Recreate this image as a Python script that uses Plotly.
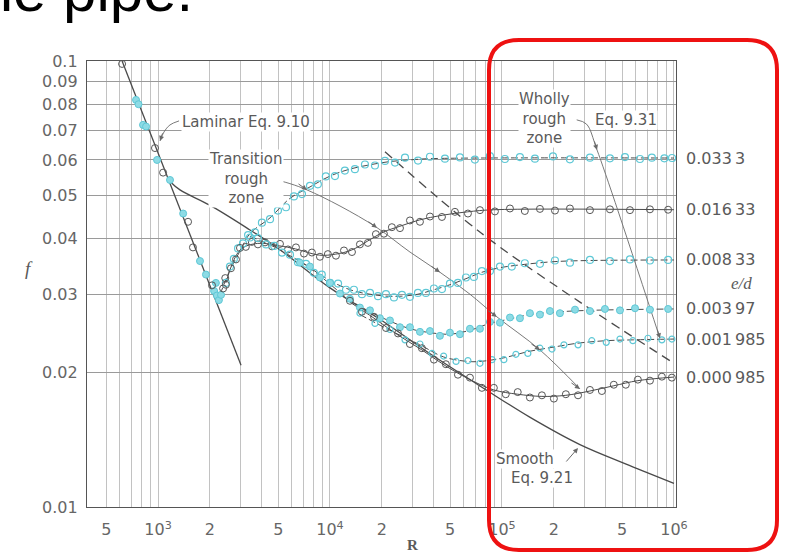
import numpy as np
import plotly.graph_objects as go

# ---------------- data ----------------
# Laminar line (Eq. 9.10)
LAM_R = [618, 3040]
LAM_F = [0.1, 0.0208]

# Smooth pipe line (Eq. 9.21)
SMOOTH_R = [1174, 1342, 2000, 3425, 5000, 10000, 20000, 40000, 81000, 145000, 284000, 550000, 1000000]
SMOOTH_F = [0.0537, 0.0514, 0.0475, 0.0418, 0.0380, 0.0310, 0.0262, 0.0218, 0.0183, 0.0159, 0.0138, 0.0124, 0.0113]

# Boundary of wholly rough zone (dashed)
ROUGH_R = [20880, 76000, 284100, 1000000]
ROUGH_F = [0.0626, 0.0411, 0.0288, 0.0210]

# Relative roughness labels
ED_LABELS = ["0.033\u20093", "0.016\u200933", "0.008\u200933", "0.003\u200997", "0.001\u2009985", "0.000\u2009985"]

# Fitted curves through the data, one per e/d
C1_R = [2300, 2620, 3000, 3420, 4480, 5850, 7650, 10000, 13000, 17000, 22300, 29000, 38000, 1000000]
C1_F = [0.0300, 0.0340, 0.0375, 0.0410, 0.0445, 0.0492, 0.0522, 0.0552, 0.0572, 0.0585, 0.0595, 0.0600, 0.0604, 0.0606]
C2_R = [2480, 3000, 3800, 5100, 6300, 8700, 10800, 13400, 16600, 20600, 25500, 33000, 45000, 63000, 90000, 1000000]
C2_F = [0.0318, 0.0377, 0.0390, 0.0385, 0.0379, 0.0367, 0.0369, 0.0377, 0.0395, 0.0414, 0.0426, 0.0440, 0.0451, 0.0459, 0.0464, 0.0464]
C3_R = [3420, 4740, 5850, 7250, 8960, 11140, 13780, 17080, 21160, 26210, 32470, 40220, 49830, 61730, 76440, 97330, 135800, 203300, 324800, 1000000]
C3_F = [0.0405, 0.0383, 0.0366, 0.0349, 0.0330, 0.0315, 0.0305, 0.0300, 0.0297, 0.0297, 0.0300, 0.0307, 0.0315, 0.0325, 0.0336, 0.0344, 0.0350, 0.0355, 0.0357, 0.0358]
C4_R = [6688, 8741, 10000, 13060, 17080, 22320, 29170, 38130, 49830, 65130, 85130, 111300, 145400, 217300, 324800, 1000000]
C4_F = [0.0356, 0.0330, 0.0316, 0.0291, 0.0274, 0.0261, 0.0251, 0.0246, 0.0244, 0.0249, 0.0258, 0.0264, 0.0270, 0.0274, 0.0276, 0.0278]
C5_R = [14930, 22320, 33350, 45780, 63400, 74460, 102600, 141400, 195300, 277000, 404000, 577000, 1000000]
C5_F = [0.0270, 0.0249, 0.0231, 0.0217, 0.0212, 0.0212, 0.0216, 0.0223, 0.0228, 0.0233, 0.0236, 0.0237, 0.0238]
C6_R = [13060, 18040, 24860, 34230, 47190, 65130, 89700, 123500, 170700, 235300, 324800, 447000, 617000, 1000000]
C6_F = [0.0288, 0.0265, 0.0243, 0.0225, 0.0207, 0.0193, 0.0183, 0.0179, 0.0177, 0.0178, 0.0182, 0.0187, 0.0192, 0.01956]

# Measured points (Nikuradse)
M1_R = [2480, 2620, 2760, 2920, 3120, 3340, 3660, 4020, 4480, 4980, 5550, 6170, 6870, 7650, 8500, 9460, 10690, 12200, 13960, 15970,
        18260, 20880, 23880, 27300, 32500, 38130, 46600, 56970, 69600, 85130, 104000, 127200, 155500, 198000, 248500, 324800, 424500,
        519000, 634300, 744000, 880000, 975000]
M1_F = [0.0318, 0.0346, 0.0360, 0.0380, 0.0390, 0.0407, 0.0413, 0.0434, 0.0442, 0.0462, 0.0470, 0.0497, 0.0503, 0.0525, 0.0529, 0.0551,
        0.0552, 0.0568, 0.0572, 0.0586, 0.0583, 0.0597, 0.0592, 0.0607, 0.0598, 0.0610, 0.0604, 0.0608, 0.0601, 0.0612, 0.0603, 0.0609,
        0.0604, 0.0611, 0.0602, 0.0607, 0.0605, 0.0609, 0.0603, 0.0607, 0.0605, 0.0606]
M2_R = [2480, 2655, 2840, 2996, 3240, 3510, 3810, 4190, 4600, 5118, 5700, 6340, 7060, 7850, 8741, 9720, 10830, 12060, 13420, 14930,
        16610, 18490, 20580, 22900, 25520, 29170, 33350, 38130, 44770, 53270, 63400, 74460, 90990, 111300, 135800, 166300, 203300,
        248500, 324800, 424500, 554800, 725200, 925000]
M2_F = [0.0315, 0.0343, 0.0359, 0.0381, 0.0383, 0.0393, 0.0388, 0.0392, 0.0384, 0.0389, 0.0378, 0.0382, 0.0370, 0.0372, 0.0364, 0.0369,
        0.0366, 0.0376, 0.0373, 0.0388, 0.0391, 0.0409, 0.0410, 0.0424, 0.0422, 0.0439, 0.0436, 0.0448, 0.0447, 0.0459, 0.0455, 0.0463,
        0.0460, 0.0467, 0.0461, 0.0466, 0.0462, 0.0467, 0.0463, 0.0465, 0.0463, 0.0465, 0.0464]
M3_R = [3425, 3810, 4250, 4740, 5260, 5850, 6510, 7250, 8060, 8960, 10000, 11140, 12390, 13780, 15340, 17080, 19020, 21160, 23550,
        26210, 29170, 32470, 36130, 40220, 44770, 49830, 55460, 61730, 68700, 76440, 85130, 97330, 114000, 135800, 166300, 203300,
        248500, 324800, 424500, 554800, 725200, 925000]
M3_F = [0.0402, 0.0401, 0.0388, 0.0385, 0.0372, 0.0368, 0.0354, 0.0351, 0.0335, 0.0332, 0.0318, 0.0317, 0.0307, 0.0307, 0.0300, 0.0302,
        0.0297, 0.0300, 0.0295, 0.0299, 0.0296, 0.0302, 0.0302, 0.0309, 0.0308, 0.0317, 0.0318, 0.0327, 0.0328, 0.0338, 0.0338, 0.0346,
        0.0346, 0.0352, 0.0351, 0.0357, 0.0353, 0.0358, 0.0356, 0.0359, 0.0357, 0.0358]
M4_R = [6688, 7646, 8741, 10000, 11430, 13060, 14930, 17080, 19520, 22320, 25520, 29170, 33350, 38130, 43590, 49830, 56970, 65130,
        74460, 85130, 97330, 111300, 127200, 145400, 166300, 190100, 217300, 266000, 324800, 397000, 485300, 594000, 725200, 925000]
M4_F = [0.0353, 0.0346, 0.0327, 0.0318, 0.0301, 0.0293, 0.0280, 0.0276, 0.0265, 0.0262, 0.0253, 0.0253, 0.0247, 0.0248, 0.0242, 0.0246,
        0.0244, 0.0251, 0.0251, 0.0260, 0.0259, 0.0266, 0.0265, 0.0272, 0.0270, 0.0275, 0.0272, 0.0277, 0.0275, 0.0278, 0.0276, 0.0279,
        0.0277, 0.0278]
M5_R = [14930, 18260, 22320, 27300, 33350, 39160, 45780, 54080, 63400, 74460, 87460, 102600, 120500, 141400, 166300, 195300, 229300,
        277000, 333000, 404000, 485300, 577000, 706000, 851000, 973000]
M5_F = [0.0272, 0.0258, 0.0250, 0.0237, 0.0232, 0.0221, 0.0218, 0.0212, 0.0213, 0.0210, 0.0214, 0.0214, 0.0220, 0.0221, 0.0227, 0.0226,
        0.0231, 0.0231, 0.0236, 0.0234, 0.0238, 0.0236, 0.0239, 0.0237, 0.0238]
M6_R = [13060, 15340, 18040, 21160, 24860, 29170, 34230, 40220, 47190, 55460, 65130, 76440, 89700, 105200, 123500, 145400, 170700,
        200400, 235300, 277000, 324800, 381000, 447000, 525000, 617000, 725200, 851000, 973000]
M6_F = [0.0290, 0.0274, 0.0267, 0.0252, 0.0245, 0.0232, 0.0227, 0.0214, 0.0209, 0.0198, 0.0195, 0.0185, 0.0185, 0.0179, 0.0181, 0.0176,
        0.0178, 0.0175, 0.0179, 0.0178, 0.0183, 0.0182, 0.0188, 0.0188, 0.0193, 0.0192, 0.0196, 0.0195]
LAMPT_CYAN_R = [745, 770, 818, 852, 987, 1174, 1400, 1754, 1900, 2120, 2200, 2260, 2325, 2170]
LAMPT_CYAN_F = [0.0818, 0.0800, 0.0719, 0.0713, 0.0600, 0.0541, 0.0455, 0.0356, 0.0332, 0.0305, 0.0298, 0.0291, 0.0299, 0.0318]
LAMPT_DARK_R = [618, 960, 1070, 1495, 1596, 2060, 2390, 2460]
LAMPT_DARK_F = [0.0985, 0.0638, 0.0562, 0.0436, 0.0382, 0.0314, 0.0309, 0.0326]

# Leader lines of the annotations
LEAD_LAM_R = [1325, 1174, 1083, 1027]
LEAD_LAM_F = [0.0734, 0.0719, 0.0693, 0.0662]
LEAD_TR_R = [4300, 5850, 7350, 11430, 18760, 29170, 43590, 65130, 93300, 166300, 284100]
LEAD_TR_F = [0.0548, 0.0531, 0.0514, 0.0473, 0.0423, 0.0373, 0.0336, 0.0300, 0.0267, 0.0225, 0.0184]
LEAD_WR_R = [272000, 310000, 357000, 829000]
LEAD_WR_F = [0.0738, 0.0722, 0.0632, 0.0239]

# Axis ticks
X_GRID = [500, 600, 700, 800, 900, 1e3, 2e3, 3e3, 4e3, 5e3, 6e3, 7e3, 8e3, 9e3, 1e4, 2e4, 3e4, 4e4, 5e4, 6e4, 7e4, 8e4, 9e4,
          1e5, 2e5, 3e5, 4e5, 5e5, 6e5, 7e5, 8e5, 9e5, 1e6]
X_LABELS = {500: "5", 1e3: "10<sup>3</sup>", 2e3: "2", 5e3: "5", 1e4: "10<sup>4</sup>", 2e4: "2", 5e4: "5",
            1e5: "10<sup>5</sup>", 2e5: "2", 5e5: "5", 1e6: "10<sup>6</sup>"}
Y_TICKS = [0.01, 0.02, 0.03, 0.04, 0.05, 0.06, 0.07, 0.08, 0.09, 0.1]
Y_LABELS = ["0.01", "0.02", "0.03", "0.04", "0.05", "0.06", "0.07", "0.08", "0.09", "0.1"]

# ---------------- figure ----------------
W, H = 785, 555
ML, MR, MT, MB = 87, 109, 61, 48
PW, PH = W - ML - MR, H - MT - MB


def px(x):
    return (x - ML) / PW


def py(y):
    return (H - MB - y) / PH


DARK = "#4a4a4a"
CYAN = "#5ec8d6"
GRAYTXT = "#5a5a5a"
SANS = "DejaVu Sans"

fig = go.Figure()

curves = [(C1_R, C1_F, "dash"), (C2_R, C2_F, "solid"), (C3_R, C3_F, "dash"),
          (C4_R, C4_F, "dash"), (C5_R, C5_F, "dash"), (C6_R, C6_F, "solid")]
for r, f, d in curves:
    fig.add_trace(go.Scatter(x=r, y=f, mode="lines", line=dict(color=DARK, width=1, shape="spline",
                                                               dash="7px,3px" if d == "dash" else None)))

# main reference lines
fig.add_trace(go.Scatter(x=LAM_R, y=LAM_F, mode="lines", line=dict(color=DARK, width=1.3)))
fig.add_trace(go.Scatter(x=SMOOTH_R, y=SMOOTH_F, mode="lines", line=dict(color=DARK, width=1.3, shape="spline")))
fig.add_trace(go.Scatter(x=ROUGH_R, y=ROUGH_F, mode="lines", line=dict(color=DARK, width=1.3, dash="9px,6px", shape="spline")))

# leader lines
for r, f in [(LEAD_LAM_R, LEAD_LAM_F), (LEAD_TR_R, LEAD_TR_F), (LEAD_WR_R, LEAD_WR_F)]:
    fig.add_trace(go.Scatter(x=r, y=f, mode="lines", line=dict(color="#6a6a6a", width=0.9, shape="spline")))

# markers
open_cyan = dict(symbol="circle-open", size=7, color=CYAN, line=dict(width=1.2, color=CYAN))
open_dark = dict(symbol="circle-open", size=7, color="#555555", line=dict(width=1, color="#555555"))
fill_cyan = dict(symbol="circle", size=7, color="#8ddbe5", line=dict(width=1, color=CYAN))
for r, f, m in [(M1_R, M1_F, open_cyan), (M2_R, M2_F, open_dark), (M3_R, M3_F, open_cyan),
                (M4_R, M4_F, fill_cyan), (M5_R, M5_F, dict(open_cyan, size=6)), (M6_R, M6_F, open_dark),
                (LAMPT_CYAN_R, LAMPT_CYAN_F, fill_cyan), (LAMPT_DARK_R, LAMPT_DARK_F, open_dark)]:
    fig.add_trace(go.Scatter(x=r, y=f, mode="markers", marker=m))

ann = []
# e/d labels at right
for (r, f, d), lab in zip(curves, ED_LABELS):
    ann.append(dict(x=px(684), xref="paper", y=np.log10(f[-1]), yref="y", text=lab, showarrow=False,
                    xanchor="left", yanchor="middle", font=dict(family=SANS, size=16, color=GRAYTXT)))
ann.append(dict(x=px(754), xref="paper", y=py(283), yref="paper", text="<i>e/d</i>", showarrow=False,
                font=dict(family="Liberation Serif", size=17, color=GRAYTXT)))
ann.append(dict(x=px(23), xref="paper", y=py(268), yref="paper", text="<i>f</i>", showarrow=False,
                font=dict(family="Liberation Serif", size=19, color=GRAYTXT)))
ann.append(dict(x=px(412), xref="paper", y=py(545), yref="paper", text="<b>R</b>", showarrow=False,
                yanchor="middle", font=dict(family="Liberation Serif", size=15, color=GRAYTXT)))

# in-plot texts
txtfont = dict(family=SANS, size=15, color=GRAYTXT)
for x, y, t, xa in [(181, 122, "Laminar Eq. 9.10", "left"),
                    (246, 178, "Transition<br>rough<br>zone", "center"),
                    (544, 118, "Wholly<br>rough<br>zone", "center"),
                    (626, 120, "Eq. 9.31", "center"),
                    (495, 459, "Smooth", "left"),
                    (510, 478, "Eq. 9.21", "left")]:
    ann.append(dict(x=px(x), xref="paper", y=py(y), yref="paper", text=t, showarrow=False, xanchor=xa,
                    yanchor="middle", font=txtfont, bgcolor="white", borderpad=0))

# arrowheads on leader lines
arrow = dict(showarrow=True, text="", arrowhead=2, arrowsize=1, arrowwidth=1, arrowcolor="#6a6a6a", standoff=0)
heads = [(LEAD_LAM_R[-1], LEAD_LAM_F[-1], 3, -9)]
for i in [2, 4, 6, 8, 9, 10]:
    heads.append((LEAD_TR_R[i], LEAD_TR_F[i], -10, -7))
heads.append((LEAD_WR_R[2], LEAD_WR_F[2], -3, -10))
heads.append((LEAD_WR_R[3], LEAD_WR_F[3], -3, -10))
heads.append((276800, 0.01356, -13, 15))
for r, f, ax, ay in heads:
    ann.append(dict(arrow, x=np.log10(r), y=np.log10(f), xref="x", yref="y", ax=ax, ay=ay))

# slide title fragment (cut by the top edge, as in the slide)
ann.append(dict(x=px(195), xref="paper", y=py(-10), yref="paper", text="the pipe.", showarrow=False,
                xanchor="right", yanchor="middle", font=dict(family="Liberation Sans", size=60, color="black")))

# red rounded box
x0, x1, yt, yb = px(489), px(777), py(40), py(550)
rx, ry = 30 / PW, 30 / PH
path = (f"M {x0+rx},{yt} L {x1-rx},{yt} Q {x1},{yt} {x1},{yt-ry} L {x1},{yb+ry} Q {x1},{yb} {x1-rx},{yb} "
        f"L {x0+rx},{yb} Q {x0},{yb} {x0},{yb+ry} L {x0},{yt-ry} Q {x0},{yt} {x0+rx},{yt} Z")

fig.update_layout(
    width=W, height=H, margin=dict(l=ML, r=MR, t=MT, b=MB), showlegend=False,
    plot_bgcolor="white", paper_bgcolor="white",
    annotations=ann,
    shapes=[dict(type="path", path=path, xref="paper", yref="paper", line=dict(color="#ee1111", width=4), layer="above")],
    xaxis=dict(type="log", range=[2.587, 6.012], tickvals=X_GRID, ticktext=[X_LABELS.get(v, "") for v in X_GRID],
               showgrid=True, gridcolor="#c2c2c2", gridwidth=1, zeroline=False, showline=True, linecolor="#555",
               linewidth=1.3, mirror=True, ticks="", ticklabelstandoff=8,
               tickfont=dict(family=SANS, size=16, color="#666")),
    yaxis=dict(type="log", range=[-2, -1], tickvals=Y_TICKS, ticktext=Y_LABELS,
               showgrid=True, gridcolor="#9a9a9a", gridwidth=1, zeroline=False, showline=True, linecolor="#555",
               linewidth=1.3, mirror=True, ticks="", ticklabelstandoff=5,
               tickfont=dict(family=SANS, size=16, color="#666")),
)

fig.write_html("out.html")
